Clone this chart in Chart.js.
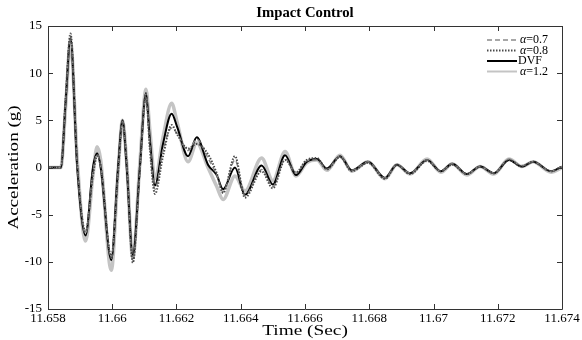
<!DOCTYPE html>
<html>
<head>
<meta charset="utf-8">
<script src="https://cdn.jsdelivr.net/npm/chart.js@4/dist/chart.umd.min.js"></script>
<style>
  html, body { margin: 0; padding: 0; background: #fff; }
  #wrap { width: 582px; height: 340px; }
</style>
</head>
<body>
<div id="wrap"><canvas id="acc"></canvas></div>
<script>
// time axis (s), shared by all four runs
var time = [11.6580, 11.6584, 11.65855, 11.6587, 11.65891, 11.65917, 11.6594, 11.65953, 11.65964, 11.65997,
  11.66018, 11.66032, 11.66045, 11.66064, 11.66086, 11.66105, 11.66117, 11.66133, 11.66158, 11.66185,
  11.66202, 11.66236, 11.66263, 11.66298, 11.66325, 11.66345, 11.66382, 11.66413, 11.66465, 11.665,
  11.66538, 11.66572, 11.66605, 11.66637, 11.66668, 11.66709, 11.66746, 11.66796, 11.66849, 11.66886,
  11.66927, 11.6698, 11.67023, 11.67058, 11.67104, 11.67145, 11.67188, 11.67235, 11.67275, 11.6731,
  11.67366, 11.674];

var alpha07 = [0, 0, 7.2, 13.9, 0.2, -7.0, -0.4, 1.4, 0, -9.6,
  -0.3, 4.9, 0.2, -9.8, -0.5, 7.8, 2.5, -2.3, 1.8, 4.2,
  3.6, 1.8, 3.0, 1.0, -0.8, -2.6, 0.8, -3.0, -0.2, -2.0,
  0.9, -0.6, 0.7, 0.8, -0.2, 1.2, -0.3, 0.6, -1.1, 0.3,
  -0.6, 0.8, -0.4, 0.4, -0.7, 0.1, -0.6, 0.9, 0.2, 0.6,
  -0.4, 0.1];

var alpha08 = [0, 0, 7.4, 14.2, 0.3, -6.8, -0.8, 1.2, 0.2, -9.5,
  -0.6, 4.8, 0.5, -10.1, 0, 7.6, 2.0, -2.8, 1.2, 4.5,
  3.5, 2.0, 2.5, 1.4, -0.6, -2.7, 1.2, -3.2, -0.4, -2.2,
  0.8, -0.5, 0.8, 1.0, -0.2, 1.1, -0.4, 0.5, -1.2, 0.3,
  -0.7, 0.7, -0.4, 0.3, -0.7, 0.1, -0.6, 0.8, 0.1, 0.6,
  -0.4, 0.1];

var dvf = [0, 0, 7.0, 13.7, 0, -7.2, 0, 1.5, 0, -9.8,
  0, 5.0, 0, -9.3, 0, 7.9, 3.0, -1.9, 2.5, 5.7,
  4.3, 1.2, 3.2, 0.3, -0.8, -2.3, 0, -2.9, 0.2, -1.8,
  1.3, -0.8, 0.6, 0.9, -0.1, 1.2, -0.3, 0.6, -1.1, 0.3,
  -0.6, 0.8, -0.4, 0.4, -0.7, 0.1, -0.6, 0.8, 0.1, 0.6,
  -0.4, 0.1];

var alpha12 = [0, 0, 6.5, 13.4, 0.8, -7.8, -0.8, 2.2, 0.8, -10.9,
  -0.5, 5.0, 0.5, -9.6, 0.5, 8.3, 4.0, -1.2, 3.2, 6.8,
  4.8, 0.6, 2.6, 0, -2.0, -3.4, -0.9, -2.5, 1.0, -1.4,
  1.7, -0.9, 0.5, 0.8, -0.3, 1.3, -0.4, 0.6, -1.2, 0.3,
  -0.7, 0.9, -0.5, 0.4, -0.8, 0.1, -0.7, 0.9, 0.1, 0.6,
  -0.5, 0];

var yTicks = [-15, -10, -5, 0, 5, 10, 15];

function pts(vals) {
  return time.map(function (t, i) { return { x: t, y: vals[i] }; });
}

var serif = "'Liberation Serif', 'Times New Roman', serif";

// text stretched along its own direction, the reference's labels are wide
function wideText(ctx, txt, x, y, rot, sx) {
  ctx.save();
  ctx.translate(x, y);
  ctx.rotate(rot);
  ctx.scale(sx, 1);
  ctx.fillText(txt, 0, 0);
  ctx.restore();
}

// box, inward ticks on all four sides, titles and legend, drawn like matlab does
var matlabFrame = {
  id: 'matlabFrame',
  afterDatasetsDraw: function (chart) {
    var ctx = chart.ctx, a = chart.chartArea;
    var xs = chart.scales.x, ys = chart.scales.y;
    ctx.save();
    ctx.strokeStyle = '#333';
    ctx.lineWidth = 1;
    ctx.beginPath();
    ctx.rect(Math.round(a.left) + 0.5, Math.round(a.top) + 0.5,
      Math.round(a.right - a.left), Math.round(a.bottom - a.top));
    ctx.stroke();
    ctx.beginPath();
    xs.ticks.forEach(function (tk) {
      var px = Math.round(xs.getPixelForValue(tk.value)) + 0.5;
      ctx.moveTo(px, a.bottom); ctx.lineTo(px, a.bottom - 5);
      ctx.moveTo(px, a.top); ctx.lineTo(px, a.top + 5);
    });
    ys.ticks.forEach(function (tk) {
      var py = Math.round(ys.getPixelForValue(tk.value)) + 0.5;
      ctx.moveTo(a.left, py); ctx.lineTo(a.left + 5, py);
      ctx.moveTo(a.right, py); ctx.lineTo(a.right - 5, py);
    });
    ctx.stroke();

    // titles
    ctx.fillStyle = '#000';
    ctx.textAlign = 'center';
    ctx.textBaseline = 'middle';
    ctx.font = 'bold 14px ' + serif;
    wideText(ctx, 'Impact Control', (a.left + a.right) / 2, 13, 0, 1.05);
    ctx.font = '14px ' + serif;
    wideText(ctx, 'Time (Sec)', (a.left + a.right) / 2, 331, 0, 1.38);
    wideText(ctx, 'Acceleration (g)', 14, (a.top + a.bottom) / 2, -Math.PI / 2, 1.36);

    // legend
    var lx = a.right - 75, ly = a.top + 14;
    ctx.textAlign = 'left';
    chart.data.datasets.forEach(function (ds, k) {
      var y = ly + k * 10.5;
      ctx.strokeStyle = ds.borderColor;
      ctx.lineWidth = Math.min(ds.borderWidth, 2);
      ctx.setLineDash(ds.borderDash || []);
      ctx.beginPath();
      ctx.moveTo(lx, y); ctx.lineTo(lx + 30, y);
      ctx.stroke();
      ctx.setLineDash([]);
      var lab = ds.label;
      var tx = lx + 31;
      if (lab.charAt(0) === 'α') {
        ctx.font = 'italic 12px ' + serif;
        ctx.fillText('α', tx + 2, y);
        tx += 2 + ctx.measureText('α').width;
        lab = lab.slice(1);
      }
      ctx.font = '12px ' + serif;
      ctx.fillText(lab, tx, y);
    });
    ctx.restore();
  }
};

new Chart(document.getElementById('acc'), {
  type: 'line',
  data: {
    datasets: [
      { label: 'α=0.7', data: pts(alpha07), borderColor: '#8a8a8a', borderWidth: 1.5, borderDash: [5, 3], order: 2 },
      { label: 'α=0.8', data: pts(alpha08), borderColor: '#4a4a4a', borderWidth: 2, borderDash: [1.5, 1.5], order: 1 },
      { label: 'DVF', data: pts(dvf), borderColor: '#000', borderWidth: 2, order: 3 },
      { label: 'α=1.2', data: pts(alpha12), borderColor: '#c4c4c4', borderWidth: 3.5, order: 4 }
    ]
  },
  options: {
    responsive: true,
    maintainAspectRatio: false,
    animation: false,
    elements: {
      point: { radius: 0 },
      line: { cubicInterpolationMode: 'monotone', fill: false }
    },
    layout: { padding: { left: 0, right: 20, top: 26, bottom: 0 } },
    plugins: { legend: { display: false }, tooltip: { enabled: false } },
    scales: {
      x: {
        type: 'linear',
        min: 11.658, max: 11.674,
        grid: { display: false, drawTicks: false },
        border: { display: false },
        ticks: {
          stepSize: 0.002,
          padding: 2,
          color: '#000',
          font: { family: serif, size: 13 },
          maxRotation: 0,
          callback: function (v) { return String(parseFloat(v.toFixed(3))); }
        },
        afterFit: function (s) { s.height = 31; }
      },
      y: {
        min: -15, max: 15,
        grid: { display: false, drawTicks: false },
        border: { display: false },
        afterBuildTicks: function (s) { s.ticks = yTicks.map(function (v) { return { value: v }; }); },
        ticks: {
          padding: 6,
          color: '#000',
          font: { family: serif, size: 13 },
          callback: function (v) { return String(v); }
        },
        afterFit: function (s) { s.width = 48; }
      }
    }
  },
  plugins: [matlabFrame]
});
</script>
</body>
</html>
